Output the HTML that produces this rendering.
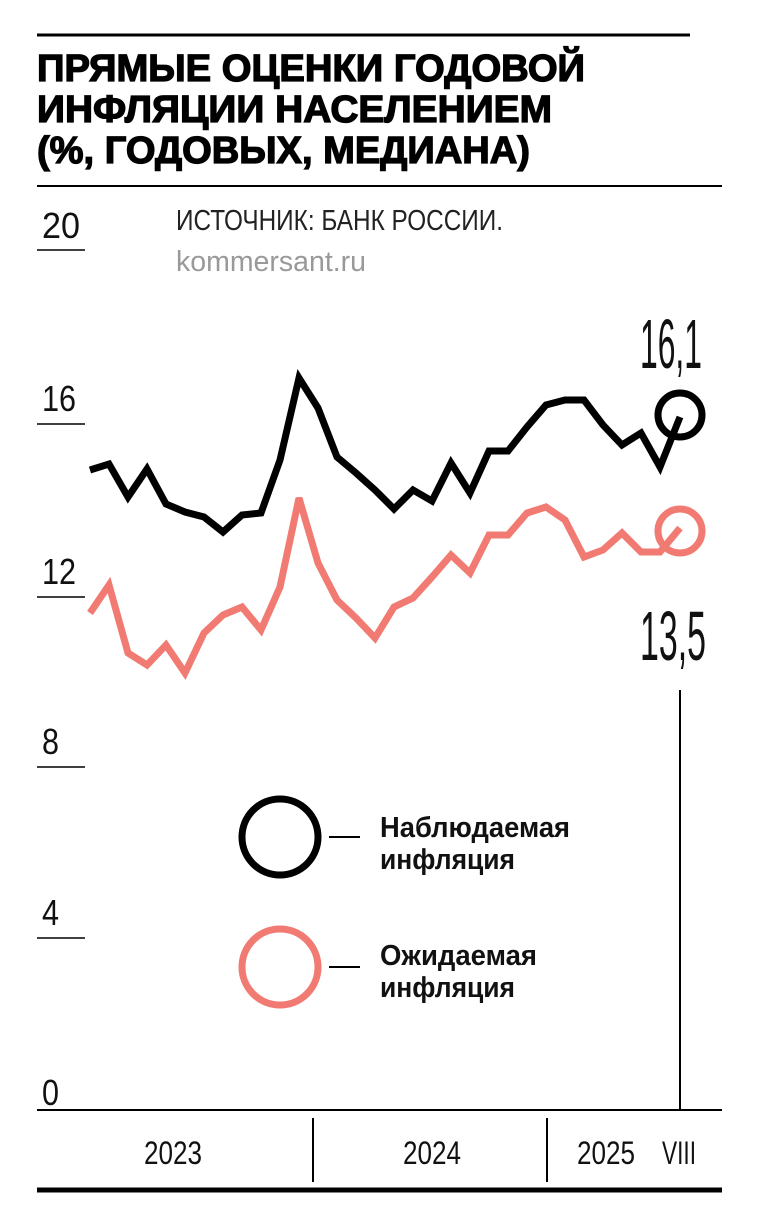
<!DOCTYPE html>
<html><head><meta charset="utf-8"><style>
html,body{margin:0;padding:0;background:#fff;}
body{width:758px;height:1208px;overflow:hidden;position:relative;font-family:"Liberation Sans",sans-serif;}
</style></head><body>
<svg width="758" height="1208" viewBox="0 0 758 1208" xmlns="http://www.w3.org/2000/svg" style="position:absolute;left:0;top:0">
<line x1="37" y1="35" x2="690" y2="35" stroke="#000" stroke-width="3"/>
<g font-family="Liberation Sans, sans-serif" font-weight="bold" font-size="38" fill="#000" stroke="#000" stroke-width="1.3">
<text x="37" y="81" textLength="548" lengthAdjust="spacingAndGlyphs">ПРЯМЫЕ ОЦЕНКИ ГОДОВОЙ</text>
<text x="37" y="122" textLength="515" lengthAdjust="spacingAndGlyphs">ИНФЛЯЦИИ НАСЕЛЕНИЕМ</text>
<text x="37" y="163" textLength="493" lengthAdjust="spacingAndGlyphs">(%, ГОДОВЫХ, МЕДИАНА)</text>
</g>
<line x1="37" y1="186" x2="722" y2="186" stroke="#000" stroke-width="2"/>
<g font-family="Liberation Sans, sans-serif" font-size="29" fill="#222">
<text x="176" y="230" textLength="327" lengthAdjust="spacingAndGlyphs">ИСТОЧНИК: БАНК РОССИИ.</text>
<text x="176" y="271" fill="#999" textLength="190" lengthAdjust="spacingAndGlyphs">kommersant.ru</text>
</g>
<g font-family="Liberation Sans, sans-serif" font-size="36" fill="#111">
<text x="42" y="238" textLength="38" lengthAdjust="spacingAndGlyphs">20</text>
<text x="42" y="411" textLength="34" lengthAdjust="spacingAndGlyphs">16</text>
<text x="42" y="584" textLength="34" lengthAdjust="spacingAndGlyphs">12</text>
<text x="42" y="754" textLength="17" lengthAdjust="spacingAndGlyphs">8</text>
<text x="42" y="925" textLength="17" lengthAdjust="spacingAndGlyphs">4</text>
<text x="42" y="1105" textLength="17" lengthAdjust="spacingAndGlyphs">0</text>
</g>
<g stroke="#000" stroke-width="1.5">
<line x1="37" y1="250" x2="85" y2="250"/>
<line x1="37" y1="424" x2="85" y2="424"/>
<line x1="37" y1="597" x2="85" y2="597"/>
<line x1="37" y1="767" x2="85" y2="767"/>
<line x1="37" y1="938" x2="85" y2="938"/>
</g>
<line x1="680" y1="690" x2="680" y2="1110" stroke="#000" stroke-width="2"/>
<line x1="37" y1="1110" x2="722" y2="1110" stroke="#000" stroke-width="2"/>
<line x1="313" y1="1118" x2="313" y2="1182" stroke="#000" stroke-width="2"/>
<line x1="547" y1="1118" x2="547" y2="1182" stroke="#000" stroke-width="2"/>
<line x1="37" y1="1190" x2="722" y2="1190" stroke="#000" stroke-width="5"/>
<g font-family="Liberation Sans, sans-serif" font-size="32" fill="#111">
<text x="144" y="1164" textLength="58" lengthAdjust="spacingAndGlyphs">2023</text>
<text x="403" y="1164" textLength="58" lengthAdjust="spacingAndGlyphs">2024</text>
<text x="577" y="1164" textLength="58" lengthAdjust="spacingAndGlyphs">2025</text>
<text x="662" y="1164" textLength="34" lengthAdjust="spacingAndGlyphs">VIII</text>
</g>
<polyline fill="none" stroke="#000" stroke-width="7" stroke-linejoin="miter" points="90,470 109,464 128,497 147,469 166,504 185,512 204,517 223,532 242,515 261,513 280,460 299,378 318,408 337,457 356,473 375,490 394,509 413,490 432,501 451,463 470,493 489,451 508,451 527,427 546,405 565,400 584,400 603,425 622,445 641,433 660,467 680,417"/>
<polyline fill="none" stroke="#f17b72" stroke-width="7" stroke-linejoin="miter" points="90,613 109,585 128,653 147,665 166,645 185,673 204,633 223,615 242,607 261,630 280,587 299,498 318,563 337,600 356,618 375,638 394,607 413,598 432,577 451,555 470,573 489,535 508,535 527,513 546,507 565,520 584,557 603,550 622,533 641,552 660,552 680,528"/>
<circle cx="680" cy="415" r="22" fill="none" stroke="#000" stroke-width="7"/>
<circle cx="680" cy="531" r="22" fill="none" stroke="#f17b72" stroke-width="7"/>
<g font-family="Liberation Sans, sans-serif" font-size="70" fill="#111">
<text x="640" y="368" textLength="62" lengthAdjust="spacingAndGlyphs">16,1</text>
<text x="640" y="660" textLength="66" lengthAdjust="spacingAndGlyphs">13,5</text>
</g>
<ellipse cx="280" cy="837" rx="38" ry="38" fill="none" stroke="#000" stroke-width="7"/>
<ellipse cx="280" cy="967" rx="38" ry="38" fill="none" stroke="#f17b72" stroke-width="7"/>
<line x1="329" y1="837" x2="360" y2="837" stroke="#000" stroke-width="2"/>
<line x1="329" y1="967" x2="360" y2="967" stroke="#000" stroke-width="2"/>
<g font-family="Liberation Sans, sans-serif" font-weight="bold" font-size="29" fill="#111">
<text x="380" y="837" textLength="190" lengthAdjust="spacingAndGlyphs">Наблюдаемая</text>
<text x="380" y="869" textLength="135" lengthAdjust="spacingAndGlyphs">инфляция</text>
<text x="380" y="965" textLength="157" lengthAdjust="spacingAndGlyphs">Ожидаемая</text>
<text x="380" y="997" textLength="135" lengthAdjust="spacingAndGlyphs">инфляция</text>
</g>
</svg>
</body></html>
